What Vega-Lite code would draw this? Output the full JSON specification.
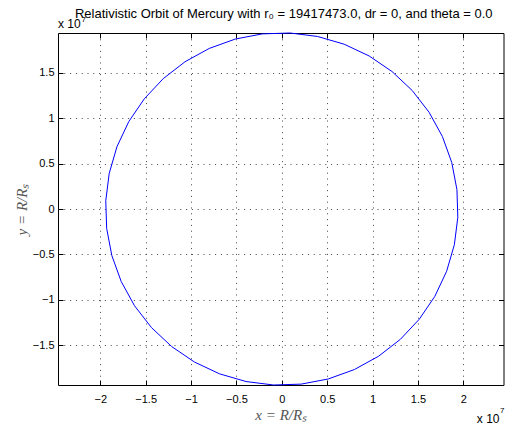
{
  "$schema": "https://vega.github.io/schema/vega-lite/v6.json",
  "width": 445.5,
  "height": 352,
  "autosize": {"type": "none"},
  "padding": {"left": 58, "top": 33, "right": 2.5, "bottom": 40},
  "background": "white",
  "config": {
    "view": {"stroke": "#000", "strokeWidth": 1},
    "axis": {
      "domain": false,
      "labelFont": "Liberation Sans",
      "labelFontSize": 11,
      "labelColor": "#000",
      "tickColor": "#000",
      "tickWidth": 1,
      "tickSize": -5,
      "titleFont": "Liberation Serif",
      "titleFontStyle": "italic",
      "titleFontWeight": "normal",
      "titleFontSize": 15,
      "titleColor": "#555"
    }
  },
  "title": {
    "text": "Relativistic Orbit of Mercury with r₀ = 19417473.0, dr = 0, and theta = 0.0",
    "font": "Liberation Sans",
    "fontSize": 13,
    "fontWeight": "normal",
    "color": "#000",
    "anchor": "middle",
    "frame": "group",
    "baseline": "alphabetic",
    "offset": -15,
    "dx": 3
  },
  "data": {
    "values": [
      {"k": 0, "x": 1.93959, "y": -0.09147},
      {"k": 1, "x": 1.93002, "y": 0.21307},
      {"k": 2, "x": 1.87293, "y": 0.51238},
      {"k": 3, "x": 1.76972, "y": 0.79906},
      {"k": 4, "x": 1.62293, "y": 1.06607},
      {"k": 5, "x": 1.43618, "y": 1.30682},
      {"k": 6, "x": 1.21406, "y": 1.5154},
      {"k": 7, "x": 0.96206, "y": 1.68666},
      {"k": 8, "x": 0.68636, "y": 1.8164},
      {"k": 9, "x": 0.39376, "y": 1.90141},
      {"k": 10, "x": 0.09147, "y": 1.93959},
      {"k": 11, "x": -0.21307, "y": 1.93002},
      {"k": 12, "x": -0.51238, "y": 1.87293},
      {"k": 13, "x": -0.79906, "y": 1.76972},
      {"k": 14, "x": -1.06607, "y": 1.62293},
      {"k": 15, "x": -1.30682, "y": 1.43618},
      {"k": 16, "x": -1.5154, "y": 1.21406},
      {"k": 17, "x": -1.68666, "y": 0.96206},
      {"k": 18, "x": -1.8164, "y": 0.68636},
      {"k": 19, "x": -1.90141, "y": 0.39376},
      {"k": 20, "x": -1.93959, "y": 0.09147},
      {"k": 21, "x": -1.93002, "y": -0.21307},
      {"k": 22, "x": -1.87293, "y": -0.51238},
      {"k": 23, "x": -1.76972, "y": -0.79906},
      {"k": 24, "x": -1.62293, "y": -1.06607},
      {"k": 25, "x": -1.43618, "y": -1.30682},
      {"k": 26, "x": -1.21406, "y": -1.5154},
      {"k": 27, "x": -0.96206, "y": -1.68666},
      {"k": 28, "x": -0.68636, "y": -1.8164},
      {"k": 29, "x": -0.39376, "y": -1.90141},
      {"k": 30, "x": -0.09147, "y": -1.93959},
      {"k": 31, "x": 0.21307, "y": -1.93002},
      {"k": 32, "x": 0.51238, "y": -1.87293},
      {"k": 33, "x": 0.79906, "y": -1.76972},
      {"k": 34, "x": 1.06607, "y": -1.62293},
      {"k": 35, "x": 1.30682, "y": -1.43618},
      {"k": 36, "x": 1.5154, "y": -1.21406},
      {"k": 37, "x": 1.68666, "y": -0.96206},
      {"k": 38, "x": 1.8164, "y": -0.68636},
      {"k": 39, "x": 1.90141, "y": -0.39376},
      {"k": 40, "x": 1.93959, "y": -0.09147}
    ]
  },
  "layer": [
    {
      "mark": {"type": "line", "color": "#0000ff", "strokeWidth": 1, "clip": false},
      "encoding": {
        "x": {
          "field": "x", "type": "quantitative",
          "scale": {"domain": [-2.466, 2.443], "nice": false, "zero": false},
          "axis": {
            "orient": "bottom",
            "values": [-2, -1.5, -1, -0.5, 0, 0.5, 1, 1.5, 2],
            "format": "~g",
            "grid": true, "gridColor": "#444", "gridDash": [1, 4.8], "gridWidth": 1,
            "labelPadding": 13,
            "title": "x = R/Rₛ",
            "titlePadding": 3
          }
        },
        "y": {
          "field": "y", "type": "quantitative",
          "scale": {"domain": [-1.9396, 1.9396], "nice": false, "zero": false},
          "axis": {
            "orient": "left",
            "values": [-1.5, -1, -0.5, 0, 0.5, 1, 1.5],
            "format": "~g",
            "grid": true, "gridColor": "#444", "gridDash": [1, 4.8], "gridWidth": 1,
            "labelPadding": 9,
            "title": "y = R/Rₛ",
            "titlePadding": 3
          }
        },
        "order": {"field": "k", "type": "quantitative"}
      }
    },
    {
      "mark": {"type": "line", "opacity": 0},
      "encoding": {
        "x": {
          "field": "x", "type": "quantitative",
          "axis": {"orient": "top", "values": [-2, -1.5, -1, -0.5, 0, 0.5, 1, 1.5, 2], "labels": false, "grid": false, "title": null}
        },
        "y": {
          "field": "y", "type": "quantitative",
          "axis": {"orient": "right", "values": [-1.5, -1, -0.5, 0, 0.5, 1, 1.5], "labels": false, "grid": false, "title": null}
        },
        "order": {"field": "k", "type": "quantitative"}
      }
    },
    {
      "data": {"values": [{}]},
      "mark": {"type": "text", "text": "x 10", "align": "left", "baseline": "alphabetic", "dy": -5, "font": "Liberation Sans", "fontSize": 12, "color": "#000"},
      "encoding": {
        "x": {"datum": -2.466, "type": "quantitative", "axis": null},
        "y": {"datum": 1.9396, "type": "quantitative", "axis": null}
      }
    },
    {
      "data": {"values": [{}]},
      "mark": {"type": "text", "text": "7", "align": "left", "baseline": "alphabetic", "dx": 23.5, "dy": -11, "font": "Liberation Sans", "fontSize": 8, "color": "#000"},
      "encoding": {
        "x": {"datum": -2.466, "type": "quantitative", "axis": null},
        "y": {"datum": 1.9396, "type": "quantitative", "axis": null}
      }
    },
    {
      "data": {"values": [{}]},
      "mark": {"type": "text", "text": "x 10", "align": "right", "baseline": "alphabetic", "dx": -4, "dy": 37.5, "font": "Liberation Sans", "fontSize": 12, "color": "#000"},
      "encoding": {
        "x": {"datum": 2.443, "type": "quantitative", "axis": null},
        "y": {"datum": -1.9396, "type": "quantitative", "axis": null}
      }
    },
    {
      "data": {"values": [{}]},
      "mark": {"type": "text", "text": "7", "align": "left", "baseline": "alphabetic", "dx": -3.5, "dy": 28, "font": "Liberation Sans", "fontSize": 8, "color": "#000"},
      "encoding": {
        "x": {"datum": 2.443, "type": "quantitative", "axis": null},
        "y": {"datum": -1.9396, "type": "quantitative", "axis": null}
      }
    }
  ],
  "resolve": {"axis": {"x": "independent", "y": "independent"}}
}
